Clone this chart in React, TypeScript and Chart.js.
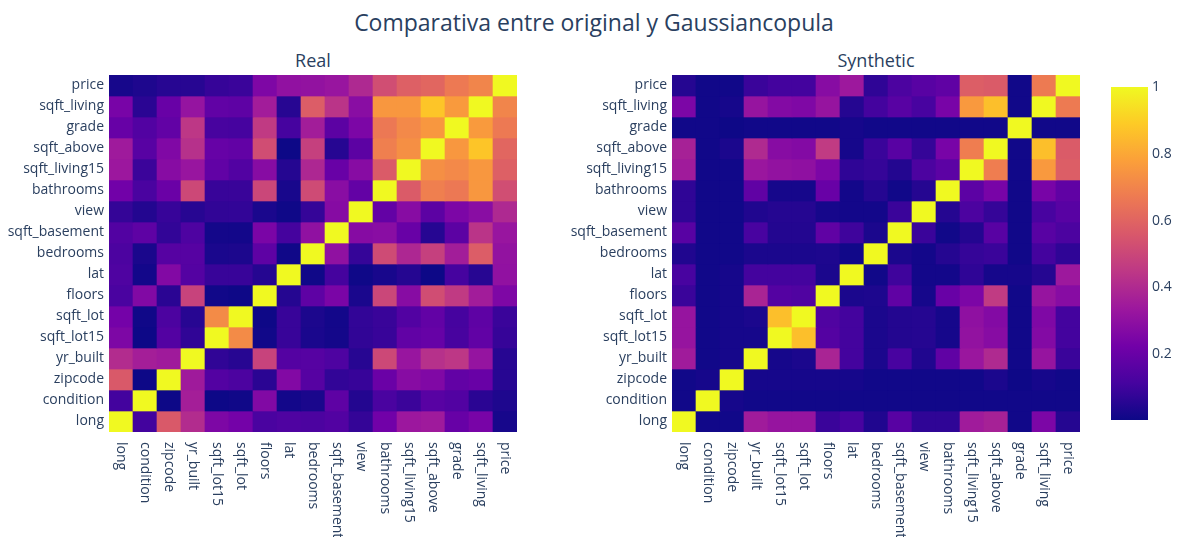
import React, { useEffect, useRef } from "react";
import { Chart, registerables } from "chart.js";

Chart.register(...registerables);

// ---------- DATA ----------
const columns = [
  "long", "condition", "zipcode", "yr_built", "sqft_lot15", "sqft_lot", "floors", "lat",
  "bedrooms", "sqft_basement", "view", "bathrooms", "sqft_living15", "sqft_above",
  "grade", "sqft_living", "price",
];
// rows listed top to bottom
const rowLabels = [...columns].reverse();

// |correlation| of the original data, rows top->bottom, columns in x order
const realMatrix: number[][] = [
  [0.022, 0.036, 0.053, 0.054, 0.082, 0.090, 0.257, 0.307, 0.308, 0.324, 0.397, 0.525, 0.585, 0.606, 0.667, 0.702, 1],
  [0.240, 0.059, 0.199, 0.318, 0.183, 0.173, 0.354, 0.053, 0.577, 0.435, 0.285, 0.755, 0.756, 0.877, 0.763, 1, 0.702],
  [0.198, 0.145, 0.185, 0.447, 0.119, 0.114, 0.458, 0.114, 0.357, 0.168, 0.251, 0.665, 0.713, 0.756, 1, 0.763, 0.667],
  [0.344, 0.158, 0.261, 0.424, 0.194, 0.184, 0.524, 0.001, 0.478, 0.052, 0.168, 0.685, 0.732, 1, 0.756, 0.877, 0.606],
  [0.335, 0.093, 0.279, 0.326, 0.183, 0.145, 0.280, 0.049, 0.392, 0.200, 0.280, 0.569, 1, 0.732, 0.713, 0.756, 0.585],
  [0.223, 0.125, 0.204, 0.506, 0.087, 0.088, 0.501, 0.025, 0.516, 0.284, 0.188, 1, 0.569, 0.685, 0.665, 0.755, 0.525],
  [0.078, 0.046, 0.085, 0.053, 0.073, 0.075, 0.029, 0.006, 0.080, 0.277, 1, 0.188, 0.280, 0.168, 0.251, 0.285, 0.397],
  [0.145, 0.174, 0.075, 0.133, 0.017, 0.015, 0.246, 0.111, 0.303, 1, 0.277, 0.284, 0.200, 0.052, 0.168, 0.435, 0.324],
  [0.129, 0.028, 0.153, 0.154, 0.029, 0.032, 0.175, 0.009, 1, 0.303, 0.080, 0.516, 0.392, 0.478, 0.357, 0.577, 0.308],
  [0.136, 0.015, 0.267, 0.148, 0.086, 0.086, 0.050, 1, 0.009, 0.111, 0.006, 0.025, 0.049, 0.001, 0.114, 0.053, 0.307],
  [0.125, 0.264, 0.059, 0.489, 0.011, 0.005, 1, 0.050, 0.175, 0.246, 0.029, 0.501, 0.280, 0.524, 0.458, 0.354, 0.257],
  [0.230, 0.009, 0.130, 0.053, 0.719, 1, 0.005, 0.086, 0.032, 0.015, 0.075, 0.088, 0.145, 0.184, 0.114, 0.173, 0.090],
  [0.254, 0.003, 0.147, 0.071, 1, 0.719, 0.011, 0.086, 0.029, 0.017, 0.073, 0.087, 0.183, 0.194, 0.119, 0.183, 0.082],
  [0.409, 0.361, 0.347, 1, 0.071, 0.053, 0.489, 0.148, 0.154, 0.133, 0.053, 0.506, 0.326, 0.424, 0.447, 0.318, 0.054],
  [0.564, 0.003, 1, 0.347, 0.147, 0.130, 0.059, 0.267, 0.153, 0.075, 0.085, 0.204, 0.279, 0.261, 0.185, 0.199, 0.053],
  [0.107, 1, 0.003, 0.361, 0.003, 0.009, 0.264, 0.015, 0.028, 0.174, 0.046, 0.125, 0.093, 0.158, 0.145, 0.059, 0.036],
  [1, 0.107, 0.564, 0.409, 0.254, 0.230, 0.125, 0.136, 0.129, 0.145, 0.078, 0.223, 0.335, 0.344, 0.198, 0.240, 0.022],
];

// |correlation| of the synthetic (Gaussian copula) data
const synthMatrix: number[][] = [
  [0.05, 0.01, 0.01, 0.09, 0.11, 0.11, 0.28, 0.34, 0.07, 0.13, 0.16, 0.18, 0.58, 0.57, 0.01, 0.67, 1],
  [0.25, 0.01, 0.02, 0.32, 0.27, 0.26, 0.32, 0.05, 0.11, 0.16, 0.12, 0.24, 0.76, 0.86, 0.01, 1, 0.67],
  [0.01, 0.01, 0.005, 0.01, 0.01, 0.01, 0.01, 0.02, 0.01, 0.01, 0.01, 0.01, 0.01, 0.01, 1, 0.01, 0.01],
  [0.37, 0.01, 0.03, 0.40, 0.28, 0.27, 0.46, 0.02, 0.09, 0.16, 0.08, 0.24, 0.68, 1, 0.01, 0.86, 0.57],
  [0.35, 0.01, 0.01, 0.33, 0.31, 0.30, 0.25, 0.07, 0.08, 0.045, 0.13, 0.17, 1, 0.68, 0.01, 0.76, 0.58],
  [0.07, 0.01, 0.01, 0.18, 0.02, 0.02, 0.20, 0.015, 0.05, 0.01, 0.05, 1, 0.17, 0.24, 0.01, 0.24, 0.18],
  [0.07, 0.01, 0.01, 0.04, 0.05, 0.05, 0.02, 0.015, 0.015, 0.09, 1, 0.05, 0.13, 0.08, 0.01, 0.12, 0.16],
  [0.16, 0.01, 0.01, 0.12, 0.045, 0.045, 0.18, 0.10, 0.03, 1, 0.09, 0.01, 0.045, 0.16, 0.01, 0.16, 0.13],
  [0.04, 0.01, 0.01, 0.03, 0.03, 0.03, 0.035, 0.01, 1, 0.03, 0.015, 0.05, 0.08, 0.09, 0.01, 0.11, 0.07],
  [0.12, 0.01, 0.02, 0.11, 0.11, 0.11, 0.03, 1, 0.01, 0.10, 0.015, 0.015, 0.07, 0.02, 0.02, 0.05, 0.34],
  [0.09, 0.01, 0.02, 0.38, 0.15, 0.14, 1, 0.03, 0.035, 0.18, 0.02, 0.20, 0.25, 0.46, 0.01, 0.32, 0.28],
  [0.32, 0.01, 0.02, 0.03, 0.86, 1, 0.14, 0.11, 0.03, 0.045, 0.05, 0.02, 0.30, 0.27, 0.01, 0.26, 0.11],
  [0.32, 0.01, 0.02, 0.02, 1, 0.86, 0.15, 0.11, 0.03, 0.045, 0.05, 0.02, 0.31, 0.28, 0.01, 0.27, 0.11],
  [0.35, 0.01, 0.02, 1, 0.02, 0.03, 0.38, 0.11, 0.03, 0.12, 0.04, 0.18, 0.33, 0.40, 0.01, 0.32, 0.09],
  [0.01, 0.02, 1, 0.02, 0.02, 0.02, 0.02, 0.02, 0.01, 0.01, 0.01, 0.01, 0.01, 0.03, 0.005, 0.02, 0.01],
  [0.01, 1, 0.02, 0.01, 0.01, 0.01, 0.01, 0.01, 0.01, 0.01, 0.01, 0.01, 0.01, 0.01, 0.01, 0.01, 0.01],
  [1, 0.01, 0.01, 0.35, 0.32, 0.32, 0.09, 0.12, 0.04, 0.16, 0.07, 0.07, 0.35, 0.37, 0.01, 0.25, 0.05],
];

const colorbarTicks = [0.2, 0.4, 0.6, 0.8, 1];
const zMin = 0.003;
const zMax = 1;

const plasmaStops = [
  "#0d0887", "#46039f", "#7201a8", "#9c179e", "#bd3786",
  "#d8576b", "#ed7953", "#fb9f3a", "#fdca26", "#f0f921",
];

const mainTitle = "Comparativa entre original y Gaussiancopula";
const subTitles = ["Real", "Synthetic"];

// ---------- STYLE ----------
const FONT = '"Open Sans", verdana, arial, sans-serif';
const TEXT = "#2a3f5f";

function hexToRgb(h: string) {
  const n = parseInt(h.slice(1), 16);
  return [(n >> 16) & 255, (n >> 8) & 255, n & 255];
}

function plasma(v: number) {
  const t = Math.min(1, Math.max(0, (v - zMin) / (zMax - zMin)));
  const seg = t * (plasmaStops.length - 1);
  const i = Math.min(plasmaStops.length - 2, Math.floor(seg));
  const f = seg - i;
  const a = hexToRgb(plasmaStops[i]);
  const b = hexToRgb(plasmaStops[i + 1]);
  const c = a.map((x, k) => Math.round(x + (b[k] - x) * f));
  return `rgb(${c[0]},${c[1]},${c[2]})`;
}

const xLabelPlugin = {
  id: "rotatedXLabels",
  afterDraw(chart: any) {
    const ctx = chart.ctx;
    const xs = chart.scales.x;
    const area = chart.chartArea;
    ctx.save();
    ctx.font = `14px ${FONT}`;
    ctx.fillStyle = TEXT;
    ctx.textAlign = "left";
    ctx.textBaseline = "middle";
    columns.forEach((lab, i) => {
      const x = xs.getPixelForTick(i);
      ctx.save();
      ctx.translate(x, area.bottom + 10);
      ctx.rotate(Math.PI / 2);
      ctx.fillText(lab, 0, 0);
      ctx.restore();
    });
    ctx.restore();
  },
};

function heatmapConfig(matrix: number[][], yAxisWidth: number, rightPad: number): any {
  const n = columns.length;
  const datasets = rowLabels.map((row, i) => {
    const base = n - 1 - i;
    return {
      label: row,
      data: columns.map(() => [base, base + 1]),
      backgroundColor: matrix[i].map((v) => plasma(v)),
      borderWidth: 0,
      grouped: false,
      barPercentage: 1,
      categoryPercentage: 1,
    };
  });
  return {
    type: "bar",
    data: { labels: columns, datasets },
    options: {
      animation: false,
      responsive: false,
      maintainAspectRatio: false,
      layout: { padding: { top: 75, right: rightPad, left: 0, bottom: 0 } },
      plugins: {
        legend: { display: false },
        tooltip: { enabled: false },
        title: { display: false },
      },
      scales: {
        x: {
          type: "category",
          grid: { display: false, drawTicks: false },
          border: { display: false },
          ticks: { display: false },
          afterFit: (s: any) => {
            s.height = 105;
          },
        },
        y: {
          type: "linear",
          min: 0,
          max: n,
          grid: { display: false, drawTicks: false },
          border: { display: false },
          afterBuildTicks: (s: any) => {
            s.ticks = rowLabels.map((_, i) => ({ value: n - 1 - i + 0.5 }));
          },
          ticks: {
            autoSkip: false,
            padding: 5,
            color: TEXT,
            font: { family: FONT, size: 14 },
            callback: (v: any) => rowLabels[n - 1 - Math.floor(Number(v))],
          },
          afterFit: (s: any) => {
            s.width = yAxisWidth;
          },
        },
      },
    },
    plugins: [xLabelPlugin],
  };
}

function colorbarConfig(): any {
  return {
    type: "bar",
    data: {
      labels: ["z"],
      datasets: [
        {
          data: [[zMin, zMax]],
          borderWidth: 0,
          barPercentage: 1,
          categoryPercentage: 1,
          backgroundColor: (c: any) => {
            const area = c.chart.chartArea;
            if (!area) return plasmaStops[0];
            const g = c.chart.ctx.createLinearGradient(0, area.bottom, 0, area.top);
            plasmaStops.forEach((s, i) => g.addColorStop(i / (plasmaStops.length - 1), s));
            return g;
          },
        },
      ],
    },
    options: {
      animation: false,
      responsive: false,
      maintainAspectRatio: false,
      layout: { padding: { top: 87, bottom: 117, left: 11, right: 0 } },
      plugins: { legend: { display: false }, tooltip: { enabled: false } },
      scales: {
        x: { display: false },
        y: {
          position: "right",
          min: zMin,
          max: zMax,
          grid: { display: false, drawTicks: false },
          border: { display: false },
          afterBuildTicks: (s: any) => {
            s.ticks = colorbarTicks.map((v) => ({ value: v }));
          },
          ticks: {
            padding: 4,
            color: TEXT,
            font: { family: FONT, size: 14 },
            callback: (v: any) => String(Math.round(Number(v) * 10) / 10),
          },
          afterFit: (s: any) => {
            s.width = 31;
          },
        },
      },
    },
  };
}

function ChartCanvas({ config, left, top, width, height }: any) {
  const ref = useRef<HTMLCanvasElement | null>(null);
  useEffect(() => {
    if (!ref.current) return;
    const chart = new Chart(ref.current, config);
    return () => chart.destroy();
  }, [config]);
  return (
    <canvas
      ref={ref}
      width={width}
      height={height}
      style={{ position: "absolute", left, top, width, height }}
    />
  );
}

const realCfg = heatmapConfig(realMatrix, 109, 23);
const synthCfg = heatmapConfig(synthMatrix, 132, 20);
const cbCfg = colorbarConfig();

export default function App() {
  return (
    <div
      style={{
        position: "fixed",
        left: 0,
        top: 0,
        width: 1179,
        height: 537,
        background: "#fff",
        overflow: "hidden",
        fontFamily: FONT,
        color: TEXT,
      }}
    >
      <div
        style={{
          position: "absolute",
          left: 294,
          width: 600,
          top: 8,
          textAlign: "center",
          fontSize: 23,
          lineHeight: "28px",
          whiteSpace: "nowrap",
        }}
      >
        {mainTitle}
      </div>
      <div
        style={{
          position: "absolute",
          left: 213,
          width: 200,
          top: 48,
          textAlign: "center",
          fontSize: 18,
          lineHeight: "24px",
        }}
      >
        {subTitles[0]}
      </div>
      <div
        style={{
          position: "absolute",
          left: 776,
          width: 200,
          top: 48,
          textAlign: "center",
          fontSize: 18,
          lineHeight: "24px",
        }}
      >
        {subTitles[1]}
      </div>
      <ChartCanvas config={realCfg} left={0} top={0} width={540} height={537} />
      <ChartCanvas config={synthCfg} left={540} top={0} width={560} height={537} />
      <ChartCanvas config={cbCfg} left={1100} top={0} width={79} height={537} />
    </div>
  );
}
